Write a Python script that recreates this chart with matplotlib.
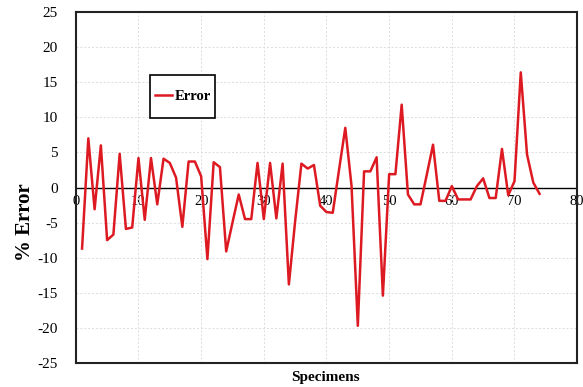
import numpy as np
import matplotlib as mpl
mpl.use('Agg')
import matplotlib.pyplot as plt
from matplotlib.patches import Rectangle

plt.rcParams['font.family'] = ['Liberation Serif', 'DejaVu Serif']
plt.rcParams['axes.unicode_minus'] = False

# percentage error for each specimen
specimens = np.arange(1, 75)
error = [
    -8.7, 7.0, -3.1, 6.0, -7.5, -6.7, 4.8, -5.9, -5.7, 4.2,
    -4.6, 4.2, -2.4, 4.1, 3.5, 1.4, -5.6, 3.7, 3.7, 1.6,
    -10.2, 3.6, 2.9, -9.1, -5.0, -1.0, -4.5, -4.5, 3.5, -4.5,
    3.5, -4.4, 3.4, -13.8, -4.8, 3.4, 2.7, 3.2, -2.6, -3.5,
    -3.6, 2.5, 8.5, 0.2, -19.7, 2.3, 2.3, 4.3, -15.4, 1.9,
    1.9, 11.8, -1.0, -2.4, -2.4, 1.8, 6.1, -1.9, -1.9, 0.2,
    -1.7, -1.7, -1.7, 0.2, 1.3, -1.5, -1.5, 5.5, -1.1, 0.9,
    16.4, 4.7, 0.7, -0.9,
]

xticks = np.arange(0, 81, 10)
yticks = np.arange(-25, 26, 5)

fig = plt.figure(figsize=(5.83, 3.87), dpi=100)
ax = fig.add_axes([0.130, 0.062, 0.860, 0.907])

ax.plot(specimens, error, color='#dd1a22', linewidth=1.8, label='Error', zorder=3)
ax.axhline(0, color='black', linewidth=1.0, zorder=2)

ax.set_xlim(0, 80)
ax.set_ylim(-25, 25)
ax.set_xticks(xticks)
ax.set_yticks(yticks)
ax.grid(color='#dcdcdc', linestyle=(0, (2, 2)), linewidth=0.7, zorder=0)

for s in ax.spines.values():
    s.set_linewidth(1.5)
    s.set_color('#222222')

ax.tick_params(axis='y', length=0, pad=13, labelsize=11)
ax.tick_params(axis='x', length=0)
ax.set_xticklabels([])

# x tick labels sit just below the zero line
for x in xticks:
    ax.text(x, -1.1, str(x), ha='center', va='top', fontsize=10.5, zorder=1)

# legend box drawn separately so its padding can be set freely
ax.add_patch(Rectangle((0.148, 0.698), 0.130, 0.123, transform=ax.transAxes,
                       facecolor='white', edgecolor='black', linewidth=1.2, zorder=4))
ax.legend(loc='center', bbox_to_anchor=(0.213, 0.760), frameon=False,
          handlelength=1.2, handletextpad=0.15, borderpad=0,
          prop={'weight': 'bold', 'size': 10.5}).set_zorder(5)

fig.text(25 / 583, 1 - 222 / 387, '% Error', rotation=90, ha='center', va='center',
         fontsize=15, fontweight='bold')
fig.text(326 / 583, 1 - 377 / 387, 'Specimens', ha='center', va='center',
         fontsize=11, fontweight='bold')

plt.savefig('out.png', dpi=100)
